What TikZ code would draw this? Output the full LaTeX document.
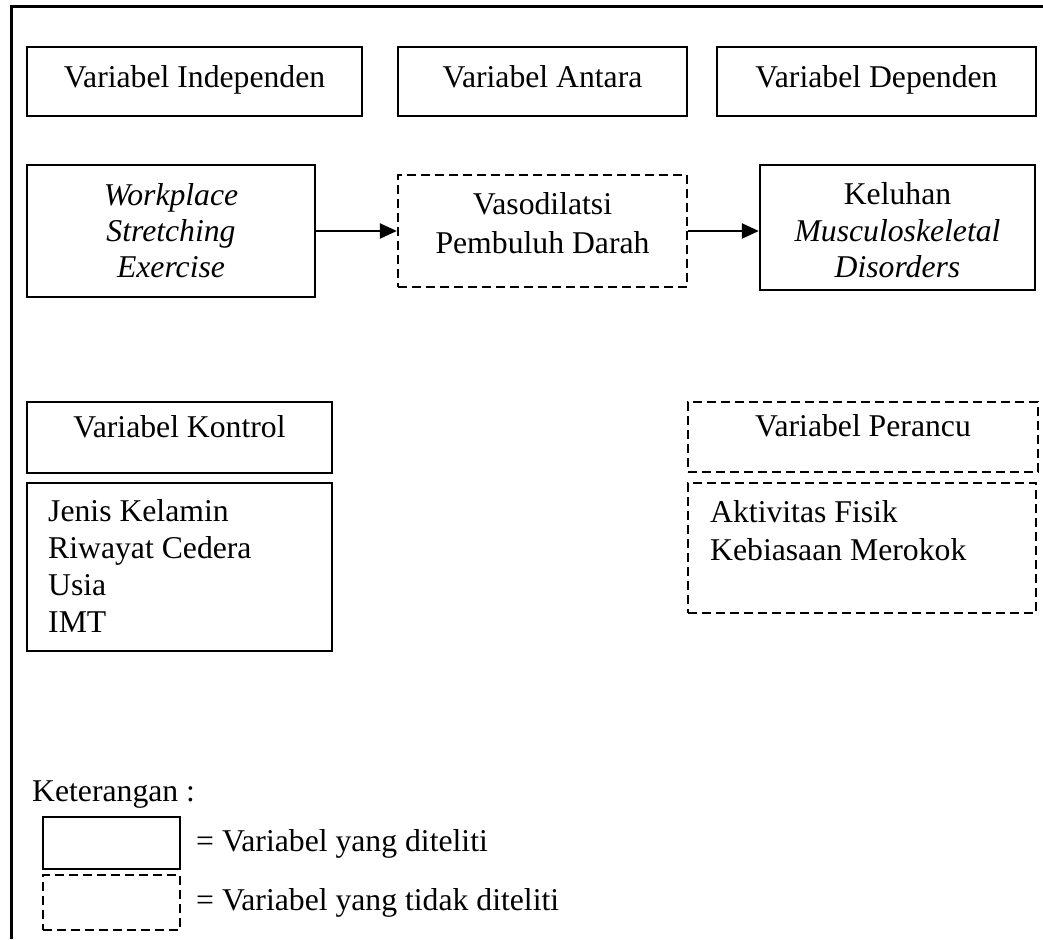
\documentclass[tikz,border=0pt]{standalone}
\usepackage{fontspec}
\setmainfont{Liberation Serif}
\usetikzlibrary{arrows.meta}
\tikzset{
  every node/.style={font=\fontsize{31.7}{36}\selectfont, inner sep=0pt},
  sbox/.style={draw, line width=2.3pt, align=center},
  dbox/.style={sbox, dash pattern=on 9pt off 5pt},
  one/.style={text height=21pt, text depth=8pt},
  onehigh/.style={text height=14pt, text depth=15pt},
  txt/.style={align=left},
  arr/.style={line width=2.3pt, -{Triangle[length=17pt,width=15pt]}},
  frame/.style={line width=3pt}
}
\begin{document}
\begin{tikzpicture}[x=1pt,y=-1pt]
\useasboundingbox (0,0) rectangle (1043,939);
% outer frame (top and left)
\draw[frame] (11,939) -- (11,7) -- (1043,7);
% header row
\node[sbox, one, minimum width=335pt, minimum height=69pt] (indep) at (194.5,81.5) {Variabel Independen};
\node[sbox, one, minimum width=289pt, minimum height=69pt] (antara) at (542.5,81.5) {Variabel Antara};
\node[sbox, one, minimum width=319pt, minimum height=69pt] (dep) at (876.5,81.5) {Variabel Dependen};
% flow row
\node[sbox, minimum width=288pt, minimum height=132pt] (work) at (171,231)
  {\textit{Workplace}\\\textit{Stretching}\\\textit{Exercise}};
\node[dbox, minimum width=289pt, minimum height=112pt, text depth=16pt,
  font=\fontsize{31.7}{38}\selectfont] (vaso) at (542.5,231)
  {Vasodilatsi\\Pembuluh Darah};
\node[sbox, minimum width=275pt, minimum height=125pt,
  font=\fontsize{31.7}{36.5}\selectfont] (kel) at (897.5,227.5)
  {\rule{0pt}{27.7pt}Keluhan\\\textit{Musculoskeletal}\\\textit{Disorders}};
\draw[arr] (work.east) -- (vaso.west);
\draw[arr] (vaso.east) -- (kel.west |- vaso.east);
% control variables
\node[sbox, onehigh, minimum width=305pt, minimum height=71pt] (kon) at (179.5,437.5) {Variabel Kontrol};
\node[sbox, minimum width=305pt, minimum height=168pt] (konlist) at (179.5,567) {};
\node[txt, anchor=north west, font=\fontsize{31.7}{37}\selectfont] (kontxt) at (48,499)
  {Jenis Kelamin\\Riwayat Cedera\\Usia\\IMT};
% confounding variables
\node[dbox, onehigh, minimum width=350pt, minimum height=70pt] (per) at (863,437) {Variabel Perancu};
\node[dbox, minimum width=348pt, minimum height=130pt] (perlist) at (862,548) {};
\node[txt, anchor=north west, font=\fontsize{31.7}{38}\selectfont] (pertxt) at (710,500)
  {Aktivitas Fisik\\Kebiasaan Merokok};
% legend
\node[anchor=base west] (ket) at (32,801) {Keterangan :};
\node[sbox, minimum width=137pt, minimum height=52pt] (lsolid) at (111.5,843) {};
\node[dbox, minimum width=137pt, minimum height=55pt] (ldash) at (111.5,902.5) {};
\node[anchor=base west] (lt1) at (196,851) {= Variabel yang diteliti};
\node[anchor=base west] (lt2) at (196,910) {= Variabel yang tidak diteliti};
\end{tikzpicture}
\end{document}
